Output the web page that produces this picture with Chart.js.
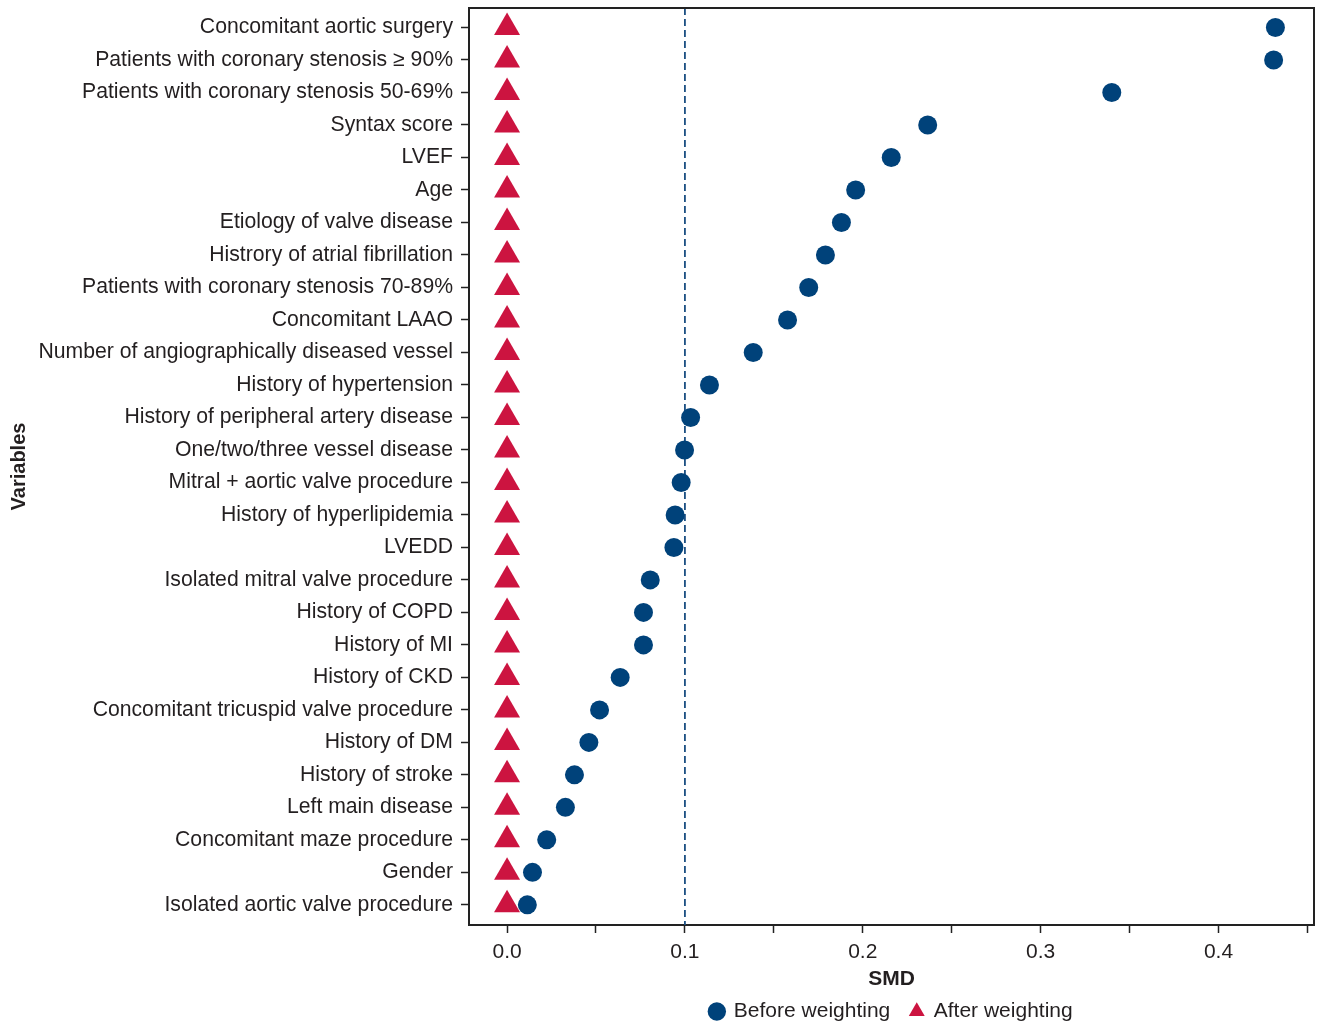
<!DOCTYPE html>
<html>
<head>
<meta charset="utf-8">
<title>SMD before and after weighting</title>
<script src="https://cdn.jsdelivr.net/npm/chart.js@4.4.0/dist/chart.umd.min.js"></script>
<style>
    html, body { margin: 0; padding: 0; background: #fff; }
    #wrap { width: 1319px; height: 1024px; }
</style>
</head>
<body>
<div id="wrap"><canvas id="smdChart"></canvas></div>
<script>
// Variables, top to bottom
var variables = [
    'Concomitant aortic surgery',
    'Patients with coronary stenosis \u2265 90%',
    'Patients with coronary stenosis 50-69%',
    'Syntax score',
    'LVEF',
    'Age',
    'Etiology of valve disease',
    'Histrory of atrial fibrillation',
    'Patients with coronary stenosis 70-89%',
    'Concomitant LAAO',
    'Number of angiographically diseased vessel',
    'History of hypertension',
    'History of peripheral artery disease',
    'One/two/three vessel disease',
    'Mitral + aortic valve procedure',
    'History of hyperlipidemia',
    'LVEDD',
    'Isolated mitral valve procedure',
    'History of COPD',
    'History of MI',
    'History of CKD',
    'Concomitant tricuspid valve procedure',
    'History of DM',
    'History of stroke',
    'Left main disease',
    'Concomitant maze procedure',
    'Gender',
    'Isolated aortic valve procedure'
];

// SMD before weighting (blue dots)
var smdBefore = [
    0.432, 0.431, 0.340, 0.2365, 0.216, 0.196, 0.188, 0.179, 0.1696, 0.1577,
    0.1384, 0.1138, 0.1032, 0.0998, 0.0979, 0.0945, 0.0938, 0.0805, 0.0767, 0.0767,
    0.0636, 0.0520, 0.0460, 0.0379, 0.0328, 0.0223, 0.0143, 0.0114
];

// SMD after weighting (red triangles)
var smdAfter = [
    0.0, 0.0, 0.0, 0.0, 0.0, 0.0, 0.0, 0.0, 0.0, 0.0,
    0.0, 0.0, 0.0, 0.0, 0.0, 0.0, 0.0, 0.0, 0.0, 0.0,
    0.0, 0.0, 0.0, 0.0, 0.0, 0.0, 0.0, 0.0
];

// x axis ticks: marks every 0.05, labels every 0.1
var xTicks = [0, 0.05, 0.1, 0.15, 0.2, 0.25, 0.3, 0.35, 0.4, 0.45];
var xTickLabels = ['0.0', '', '0.1', '', '0.2', '', '0.3', '', '0.4', ''];
var smdThreshold = 0.1;

var textColor = '#231f20';
var blue = '#00427a';
var red = '#cc1440';

document.addEventListener('DOMContentLoaded', function() {
    var ctx = document.getElementById('smdChart').getContext('2d');

    var beforePoints = smdBefore.map(function(v, i) { return { x: v, y: i }; });
    var afterPoints = smdAfter.map(function(v, i) { return { x: v, y: i }; });

    // dashed reference line at SMD = 0.1
    var thresholdLine = {
        id: 'thresholdLine',
        beforeDatasetsDraw: function(chart) {
            var area = chart.chartArea;
            var x = chart.scales.x.getPixelForValue(smdThreshold);
            var c = chart.ctx;
            c.save();
            c.strokeStyle = '#1b4f82';
            c.lineWidth = 1.8;
            c.setLineDash([7, 4]);
            c.beginPath();
            c.moveTo(x, area.top);
            c.lineTo(x, area.bottom);
            c.stroke();
            c.restore();
        }
    };

    // top and right sides of the box
    var frame = {
        id: 'frame',
        afterDraw: function(chart) {
            var area = chart.chartArea;
            var c = chart.ctx;
            c.save();
            c.strokeStyle = '#222';
            c.lineWidth = 2;
            c.beginPath();
            c.moveTo(area.left, area.top);
            c.lineTo(area.right, area.top);
            c.lineTo(area.right, area.bottom);
            c.stroke();
            c.restore();
        }
    };

    new Chart(ctx, {
        type: 'scatter',
        data: {
            datasets: [{
                label: 'Before weighting',
                data: beforePoints,
                pointStyle: 'circle',
                pointRadius: 9.5,
                pointBorderWidth: 0,
                backgroundColor: blue,
                borderColor: blue
            }, {
                label: 'After weighting',
                data: afterPoints,
                pointStyle: 'triangle',
                pointRadius: 15,
                pointBorderWidth: 0,
                backgroundColor: red,
                borderColor: red
            }]
        },
        options: {
            responsive: true,
            maintainAspectRatio: false,
            animation: false,
            layout: {
                autoPadding: false,
                padding: { top: 8, right: 5, left: 0, bottom: -8 }
            },
            plugins: {
                tooltip: { enabled: false },
                legend: {
                    position: 'bottom',
                    fullSize: false,
                    labels: {
                        usePointStyle: true,
                        boxWidth: 13,
                        boxHeight: 13,
                        padding: 20,
                        color: textColor,
                        font: { family: 'Liberation Sans, Arial, sans-serif', size: 21 }
                    }
                }
            },
            scales: {
                x: {
                    type: 'linear',
                    min: -0.0214,
                    max: 0.4537,
                    afterBuildTicks: function(scale) {
                        scale.ticks = xTicks.map(function(v) { return { value: v }; });
                    },
                    afterFit: function(scale) {
                        scale.height = 56;
                        scale.paddingLeft = 0;
                        scale.paddingRight = 0;
                    },
                    ticks: {
                        autoSkip: false,
                        maxRotation: 0,
                        padding: 7,
                        color: textColor,
                        font: { family: 'Liberation Sans, Arial, sans-serif', size: 21 },
                        callback: function(value, index) {
                            return xTickLabels[index];
                        }
                    },
                    grid: {
                        drawOnChartArea: false,
                        drawTicks: true,
                        tickLength: 8,
                        tickColor: '#222',
                        tickWidth: 1.5
                    },
                    border: { display: true, color: '#222', width: 2 },
                    title: {
                        display: true,
                        text: 'SMD',
                        color: textColor,
                        font: { family: 'Liberation Sans, Arial, sans-serif', size: 21, weight: 'bold' },
                        padding: { top: 0, bottom: -11 }
                    }
                },
                y: {
                    type: 'linear',
                    reverse: true,
                    min: -0.6,
                    max: 27.62,
                    afterBuildTicks: function(scale) {
                        scale.ticks = variables.map(function(v, i) { return { value: i }; });
                    },
                    afterFit: function(scale) {
                        scale.width = 469;
                        scale.paddingTop = 0;
                        scale.paddingBottom = 0;
                    },
                    ticks: {
                        autoSkip: false,
                        padding: 8,
                        color: textColor,
                        font: { family: 'Liberation Sans, Arial, sans-serif', size: 21.2 },
                        callback: function(value) {
                            return variables[value];
                        }
                    },
                    grid: {
                        drawOnChartArea: false,
                        drawTicks: true,
                        tickLength: 8,
                        tickColor: '#222',
                        tickWidth: 1.5
                    },
                    border: { display: true, color: '#222', width: 2 },
                    title: {
                        display: true,
                        text: 'Variables',
                        color: textColor,
                        font: { family: 'Liberation Sans, Arial, sans-serif', size: 20, weight: 'bold' },
                        padding: { top: 7, bottom: 0 }
                    }
                }
            }
        },
        plugins: [thresholdLine, frame]
    });
});
</script>
</body>
</html>
